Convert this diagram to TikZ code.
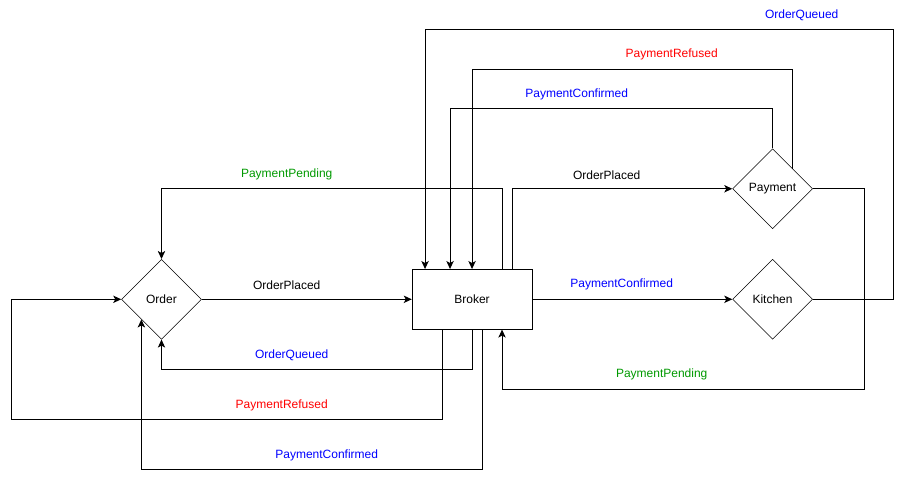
\documentclass[tikz,border=0pt]{standalone}
\usepackage{fontspec}
\setmainfont{Liberation Sans}
\usepackage{tikz}
\usetikzlibrary{shapes.geometric,arrows.meta,positioning,calc}
\definecolor{evgreen}{RGB}{0,153,0}

\begin{document}
\begin{tikzpicture}[x=0.75pt, y=-0.75pt, dec/.style={draw, diamond, aspect=1, minimum width=60pt, minimum height=60pt, inner sep=0pt, font=\fontsize{9pt}{11pt}\selectfont}, hub/.style={draw, minimum width=90pt, minimum height=45pt, inner sep=0pt, font=\fontsize{9pt}{11pt}\selectfont}, msg/.style={inner sep=0pt, yshift=-1.2pt, font=\fontsize{9pt}{11pt}\selectfont}, flow/.style={->, line width=0.75pt}, >={Stealth[length=6pt, width=5.5pt, inset=1.5pt]}]
\useasboundingbox (0,0) rectangle (908,484);
\node[dec] (order) at (161.5,299.3) {Order};
\node[hub, right=157.5pt of order] (broker) {Broker};
\node[dec, right=150pt of broker] (kitchen) {Kitchen};
\node[dec, above=22.5pt of kitchen] (payment) {Payment};
% order side
\draw[flow] (order) -- (broker);
\draw[flow] ($(broker.north)+(30,0)$) |- (order.north |- payment.west) -- (order.north);
\draw[flow] (broker.south) -- ++(0,40) -| (order.south);
\draw[flow] ($(broker.south)+(-30,0)$) |- ($(order.west)+(-109.3,120)$) |- (order.west);
\draw[flow] ($(broker.south)+(10,0)$) -- ++(0,140) -| ($(order.south)!.5!(order.west)$);
% payment and kitchen side
\draw[flow] (broker) -- (kitchen);
\draw[flow] ($(broker.north)+(40,0)$) |- (payment.west);
\draw[flow] (payment.east) -- ++(51.5,0) |- ($(broker.south)+(30,60)$) -- ($(broker.south)+(30,0)$);
\draw[flow] (payment.north) -- ++(0,-40) -| ($(broker.north)+(-22,0)$);
\draw[flow] ($(payment.north)!.5!(payment.east)$) |- ($(broker.north)+(0,-200)$) -- (broker.north);
\draw[flow] (kitchen.east) -- ++(81,0) |- ($(broker.north)+(-47,-240)$) -- ($(broker.north)+(-47,0)$);
% labels
\node[msg] (l1) at (286.7,283.3) {OrderPlaced};
\node[msg, text=evgreen] (l2) at (286.7,173.3) {PaymentPending};
\node[msg, text=blue] (l3) at (291.7,353.3) {OrderQueued};
\node[msg, text=red] (l4) at (281.7,403.3) {PaymentRefused};
\node[msg, text=blue] (l5) at (326.7,453.3) {PaymentConfirmed};
\node[msg, text=blue] (l6) at (621.7,283.3) {PaymentConfirmed};
\node[msg] (l7) at (606.7,173.3) {OrderPlaced};
\node[msg, text=evgreen] (l8) at (661.7,373.3) {PaymentPending};
\node[msg, text=blue] (l9) at (576.7,93.3) {PaymentConfirmed};
\node[msg, text=red] (l10) at (671.7,53.3) {PaymentRefused};
\node[msg, text=blue] (l11) at (801.7,13.3) {OrderQueued};
\end{tikzpicture}
\end{document}
